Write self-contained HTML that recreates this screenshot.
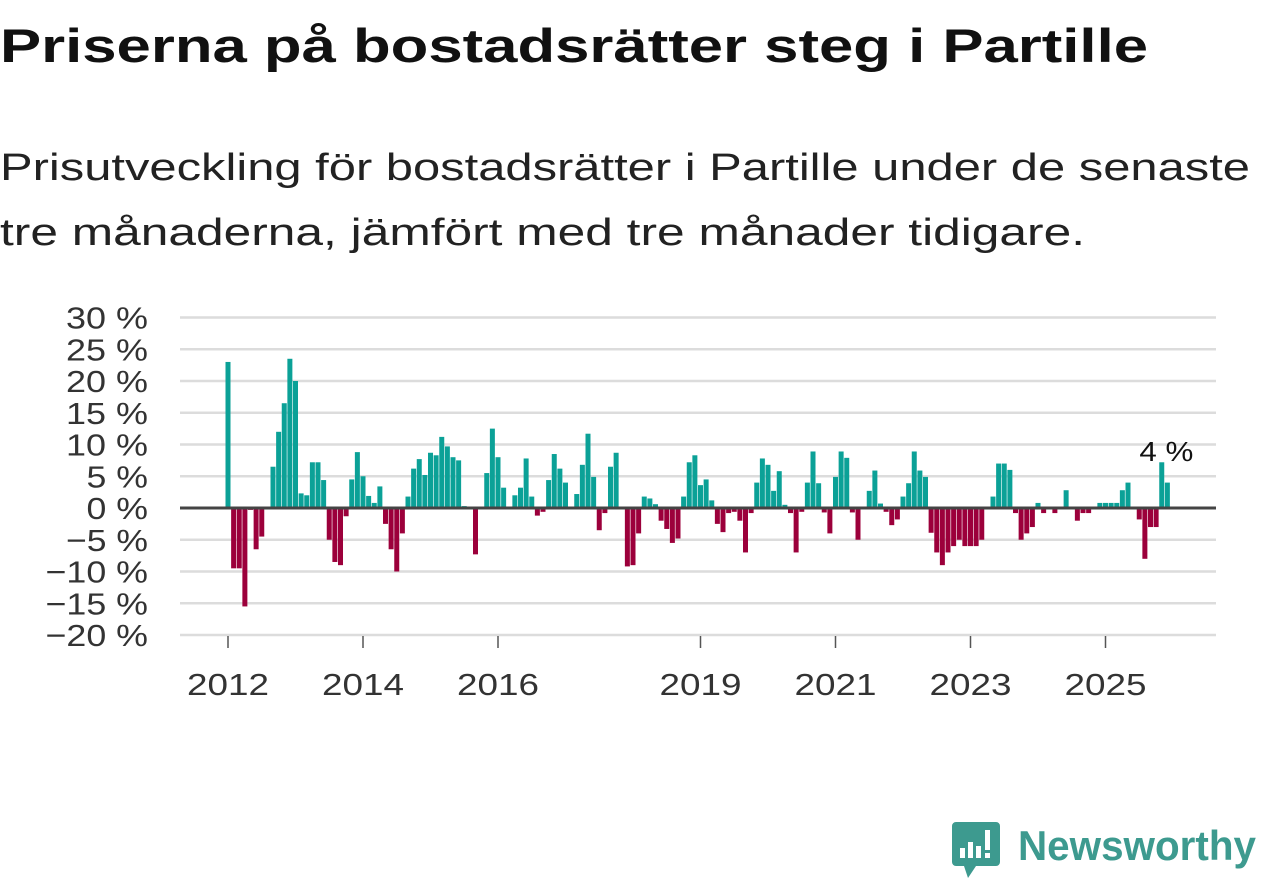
<!DOCTYPE html>
<html><head><meta charset="utf-8"><style>
html,body{margin:0;padding:0;background:#fff;width:1262px;height:879px;overflow:hidden}
svg{display:block;font-family:"Liberation Sans",sans-serif}
</style></head><body>
<svg id="chart" width="1262" height="879">
<text x="0" y="62" font-size="47" font-weight="bold" fill="#111" textLength="1148" lengthAdjust="spacingAndGlyphs">Priserna på bostadsrätter steg i Partille</text>
<text x="0" y="180" font-size="38" fill="#222" textLength="1250" lengthAdjust="spacingAndGlyphs">Prisutveckling för bostadsrätter i Partille under de senaste</text>
<text x="0" y="245" font-size="38" fill="#222" textLength="1085" lengthAdjust="spacingAndGlyphs">tre månaderna, jämfört med tre månader tidigare.</text>
<g id="grid"></g>
<g id="bars"></g>
<g id="axes"></g>
<g>
<path d="M956 822 h40 a4 4 0 0 1 4 4 v36 a4 4 0 0 1 -4 4 h-20 l-8 12 l-4 -12 h-8 a4 4 0 0 1 -4 -4 v-36 a4 4 0 0 1 4 -4z" fill="#3d9a8f"/>
<rect x="960" y="848" width="5" height="10" fill="#fff"/>
<rect x="968" y="842" width="5" height="16" fill="#fff"/>
<rect x="976" y="846" width="5" height="12" fill="#fff"/>
<rect x="985" y="830" width="5" height="20" fill="#fff"/>
<rect x="985" y="853" width="5" height="5" fill="#fff"/>
<text x="1018" y="860" font-size="42" font-weight="bold" fill="#3d9a8f" textLength="238" lengthAdjust="spacingAndGlyphs">Newsworthy</text>
</g>
</svg>
<script>
const values = [23,-9.5,-9.5,-15.5,-0.3,-6.5,-4.5,0,6.5,12,16.5,23.5,20,2.3,2,7.2,7.2,4.4,-5,-8.5,-9,-1.3,4.5,8.8,5,1.9,0.8,3.4,-2.5,-6.5,-10,-4,1.8,6.2,7.7,5.2,8.7,8.3,11.2,9.7,8,7.5,0.3,0,-7.3,0,5.5,12.5,8,3.2,0,2,3.2,7.8,1.8,-1.2,-0.6,4.4,8.5,6.2,4,0,2.2,6.8,11.7,4.9,-3.5,-0.8,6.5,8.7,0.2,-9.2,-9,-4,1.8,1.5,0.6,-2,-3.3,-5.5,-4.8,1.8,7.2,8.3,3.6,4.5,1.2,-2.5,-3.8,-0.8,-0.6,-2,-7,-0.8,4,7.8,6.8,2.7,5.8,0.5,-0.8,-7,-0.6,4,8.9,3.9,-0.7,-4,4.9,8.9,7.9,-0.7,-5,0,2.7,5.9,0.7,-0.6,-2.7,-1.8,1.8,3.9,8.9,5.9,4.9,-3.9,-7,-9,-7,-6,-5,-6,-6,-6,-5,0,1.8,7,7,6,-0.8,-5,-4,-3,0.8,-0.8,0,-0.8,0,2.8,0,-2,-0.8,-0.8,0,0.8,0.8,0.8,0.8,2.8,4,0,-1.8,-8,-3,-3,7.2,4];
const startYear = 2012;
const yTicks = [30,25,20,15,10,5,0,-5,-10,-15,-20];
const xTickYears = [2012,2014,2016,2019,2021,2023,2025];
const lastLabel = "4 %";

const NS="http://www.w3.org/2000/svg";
const y0px=317.5, yMax=30, yMin=-20, y1px=635;
function y(v){return y0px+(yMax-v)*(y1px-y0px)/(yMax-yMin);}
const x0=228, perMonth=5.625;
function xm(i){return x0+i*perMonth;}
function xy(yr){return xm((yr-startYear)*12);}
function mk(tag,attrs,parent){const e=document.createElementNS(NS,tag);for(const k in attrs)e.setAttribute(k,attrs[k]);parent.appendChild(e);return e;}
const grid=document.getElementById('grid'),bars=document.getElementById('bars'),axes=document.getElementById('axes');
yTicks.forEach(t=>{
  if(t!==0){const l=mk('line',{x1:180,x2:1216,y1:y(t),y2:y(t),stroke:'#dcdcdc','stroke-width':2.5},grid);
  
  }
  const s=(t<0?'\u2212'+(-t):String(t))+' %';
  const tx=mk('text',{x:148,y:y(t)+11,'font-size':31,'text-anchor':'end',fill:'#333',textLength:s.length*20.5,lengthAdjust:'spacingAndGlyphs'},axes);
  tx.textContent=s;
  
  
});
values.forEach((v,i)=>{
  const top=Math.min(y(v),y(0)),h=Math.abs(y(v)-y(0));
  const r=mk('rect',{x:xm(i)-2.5,y:top,width:5,height:h,fill:v>=0?'#0ba197':'#9c003b'},bars);
  
  
});
const zl=mk('line',{x1:180,x2:1216,y1:y(0),y2:y(0),stroke:'#444','stroke-width':3},axes);


xTickYears.forEach(yr=>{
  const l=mk('line',{x1:xy(yr),x2:xy(yr),y1:636,y2:648,stroke:'#555','stroke-width':1.5},axes);
  
  
  const t=mk('text',{x:xy(yr),y:695,'font-size':31,'text-anchor':'middle',fill:'#333',textLength:82,lengthAdjust:'spacingAndGlyphs'},axes);
  t.textContent=yr;
  
  
});
const lab=mk('text',{x:xm(values.length-1)-1,y:461,'font-size':28,'text-anchor':'middle',fill:'#111',textLength:54,lengthAdjust:'spacingAndGlyphs'},axes);
lab.textContent=lastLabel;


</script>
</body></html>
